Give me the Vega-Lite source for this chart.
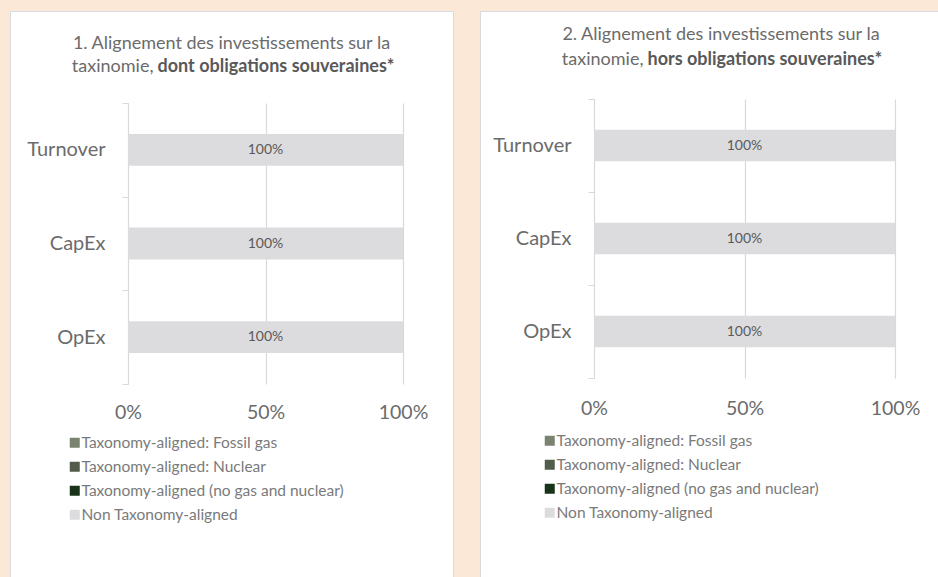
{
  "$schema": "https://vega.github.io/schema/vega-lite/v6.json",
  "background": "#fbe8d7",
  "padding": {"left": 9, "top": 0, "right": 0, "bottom": 0},
  "config": {
    "font": "Lato",
    "view": {"fill": "white", "stroke": "#d7dbe0", "strokeWidth": 1},
    "axis": {"labelFont": "Lato", "titleFont": "Lato", "labelOverlap": false, "labelBound": false},
    "legend": {"orient": "none", "symbolType": "square", "symbolSize": 100, "symbolStrokeWidth": 0, "labelFontSize": 15.5, "labelColor": "#7a7a7a", "labelFont": "Lato", "labelLimit": 0, "rowPadding": 7, "labelOffset": -1, "padding": 0, "symbolOffset": 0}
  },
  "datasets": {
    "p1": [
      {"metric": "Turnover", "category": "Taxonomy-aligned: Fossil gas", "value": 0},
      {"metric": "Turnover", "category": "Taxonomy-aligned: Nuclear", "value": 0},
      {"metric": "Turnover", "category": "Taxonomy-aligned (no gas and nuclear)", "value": 0},
      {"metric": "Turnover", "category": "Non Taxonomy-aligned", "value": 1},
      {"metric": "CapEx", "category": "Taxonomy-aligned: Fossil gas", "value": 0},
      {"metric": "CapEx", "category": "Taxonomy-aligned: Nuclear", "value": 0},
      {"metric": "CapEx", "category": "Taxonomy-aligned (no gas and nuclear)", "value": 0},
      {"metric": "CapEx", "category": "Non Taxonomy-aligned", "value": 1},
      {"metric": "OpEx", "category": "Taxonomy-aligned: Fossil gas", "value": 0},
      {"metric": "OpEx", "category": "Taxonomy-aligned: Nuclear", "value": 0},
      {"metric": "OpEx", "category": "Taxonomy-aligned (no gas and nuclear)", "value": 0},
      {"metric": "OpEx", "category": "Non Taxonomy-aligned", "value": 1}
    ],
    "p2": [
      {"metric": "Turnover", "category": "Taxonomy-aligned: Fossil gas", "value": 0},
      {"metric": "Turnover", "category": "Taxonomy-aligned: Nuclear", "value": 0},
      {"metric": "Turnover", "category": "Taxonomy-aligned (no gas and nuclear)", "value": 0},
      {"metric": "Turnover", "category": "Non Taxonomy-aligned", "value": 1},
      {"metric": "CapEx", "category": "Taxonomy-aligned: Fossil gas", "value": 0},
      {"metric": "CapEx", "category": "Taxonomy-aligned: Nuclear", "value": 0},
      {"metric": "CapEx", "category": "Taxonomy-aligned (no gas and nuclear)", "value": 0},
      {"metric": "CapEx", "category": "Non Taxonomy-aligned", "value": 1},
      {"metric": "OpEx", "category": "Taxonomy-aligned: Fossil gas", "value": 0},
      {"metric": "OpEx", "category": "Taxonomy-aligned: Nuclear", "value": 0},
      {"metric": "OpEx", "category": "Taxonomy-aligned (no gas and nuclear)", "value": 0},
      {"metric": "OpEx", "category": "Non Taxonomy-aligned", "value": 1}
    ]
  },
  "spacing": 25,
  "resolve": {"scale": {"color": "independent", "x": "independent", "y": "independent"}, "legend": {"color": "independent"}},
  "hconcat": [
    {
      "width": 443,
      "height": 570,
      "title": {"text": "1. Alignement des investissements sur la", "anchor": "middle", "frame": "group", "offset": -66, "baseline": "alphabetic", "fontSize": 18, "fontWeight": "normal", "color": "#6b6b6b", "font": "Lato"},
      "data": {"name": "p1"},
      "encoding": {
        "y": {
          "field": "metric", "type": "nominal", "sort": ["Turnover", "CapEx", "OpEx"],
          "scale": {"range": [92, 373], "paddingInner": 0, "paddingOuter": 0},
          "axis": {"orient": "left", "offset": -118, "domain": true, "domainColor": "#d9d9d9", "domainWidth": 1, "ticks": true, "tickBand": "extent", "tickSize": 6, "tickColor": "#d9d9d9", "grid": false, "labelFontSize": 20, "labelColor": "#6b6b6b", "labelPadding": 17,
            "title": "dont obligations souveraines*", "titleAngle": 0, "titleX": 29, "titleY": 60, "titleAlign": "left", "titleBaseline": "alphabetic", "titleFontWeight": "bold", "titleFontSize": 18, "titleColor": "#595959"}
        }
      },
      "layer": [
        {
          "mark": {"type": "bar", "height": {"band": 0.34}},
          "encoding": {
            "x": {"field": "value", "type": "quantitative", "stack": "zero",
              "scale": {"domain": [0, 1], "range": [118, 393], "nice": false, "zero": true},
              "axis": {"orient": "top", "offset": -401, "values": [0, 0.5, 1], "format": ".0%", "domain": false, "ticks": false, "tickSize": 0, "grid": true, "gridColor": "#d9d9d9", "gridWidth": 1.2, "labelFontSize": 19.5, "labelColor": "#6b6b6b", "labelPadding": 0, "labelBaseline": "middle", "labelFlush": false,
                "title": "taxinomie,", "titleX": 143, "titleY": -341, "titleAlign": "right", "titleBaseline": "alphabetic", "titleFontWeight": "normal", "titleFontSize": 18, "titleColor": "#6b6b6b"}},
            "color": {"field": "category", "type": "nominal",
              "scale": {"domain": ["Taxonomy-aligned: Fossil gas", "Taxonomy-aligned: Nuclear", "Taxonomy-aligned (no gas and nuclear)", "Non Taxonomy-aligned"], "range": ["#7a8270", "#525c4b", "#17341a", "#dcdcde"]},
              "legend": {"title": null, "orient": "none", "legendX": 57, "legendY": 424}}
          }
        },
        {
          "transform": [{"filter": "datum.value > 0"}],
          "mark": {"type": "text", "fontSize": 14, "color": "#595959", "font": "Lato", "baseline": "middle"},
          "encoding": {
            "x": {"field": "value", "type": "quantitative", "stack": "zero", "bandPosition": 0.5},
            "detail": {"field": "category"},
            "text": {"field": "value", "type": "quantitative", "format": ".0%"}
          }
        }
      ]
    },
    {
      "width": 470,
      "height": 570,
      "title": {"text": "2. Alignement des investissements sur la", "anchor": "middle", "frame": "group", "offset": -57, "dx": 6, "baseline": "alphabetic", "fontSize": 18, "fontWeight": "normal", "color": "#6b6b6b", "font": "Lato"},
      "data": {"name": "p2"},
      "encoding": {
        "y": {
          "field": "metric", "type": "nominal", "sort": ["Turnover", "CapEx", "OpEx"],
          "scale": {"range": [88, 367], "paddingInner": 0, "paddingOuter": 0},
          "axis": {"orient": "left", "offset": -114, "domain": true, "domainColor": "#d9d9d9", "domainWidth": 1, "ticks": true, "tickBand": "extent", "tickSize": 6, "tickColor": "#d9d9d9", "grid": false, "labelFontSize": 20, "labelColor": "#6b6b6b", "labelPadding": 17,
            "title": "hors obligations souveraines*", "titleAngle": 0, "titleX": 53, "titleY": 53, "titleAlign": "left", "titleBaseline": "alphabetic", "titleFontWeight": "bold", "titleFontSize": 18, "titleColor": "#595959"}
        }
      },
      "layer": [
        {
          "mark": {"type": "bar", "height": {"band": 0.34}},
          "encoding": {
            "x": {"field": "value", "type": "quantitative", "stack": "zero",
              "scale": {"domain": [0, 1], "range": [114, 415], "nice": false, "zero": true},
              "axis": {"orient": "top", "offset": -397, "values": [0, 0.5, 1], "format": ".0%", "domain": false, "ticks": false, "tickSize": 0, "grid": true, "gridColor": "#d9d9d9", "gridWidth": 1.2, "labelFontSize": 19.5, "labelColor": "#6b6b6b", "labelPadding": 0, "labelBaseline": "middle", "labelFlush": false,
                "title": "taxinomie,", "titleX": 163, "titleY": -344, "titleAlign": "right", "titleBaseline": "alphabetic", "titleFontWeight": "normal", "titleFontSize": 18, "titleColor": "#6b6b6b"}},
            "color": {"field": "category", "type": "nominal",
              "scale": {"domain": ["Taxonomy-aligned: Fossil gas", "Taxonomy-aligned: Nuclear", "Taxonomy-aligned (no gas and nuclear)", "Non Taxonomy-aligned"], "range": ["#7a8270", "#525c4b", "#17341a", "#dcdcde"]},
              "legend": {"title": null, "orient": "none", "legendX": 62, "legendY": 422}}
          }
        },
        {
          "transform": [{"filter": "datum.value > 0"}],
          "mark": {"type": "text", "fontSize": 14, "color": "#595959", "font": "Lato", "baseline": "middle"},
          "encoding": {
            "x": {"field": "value", "type": "quantitative", "stack": "zero", "bandPosition": 0.5},
            "detail": {"field": "category"},
            "text": {"field": "value", "type": "quantitative", "format": ".0%"}
          }
        }
      ]
    }
  ]
}
